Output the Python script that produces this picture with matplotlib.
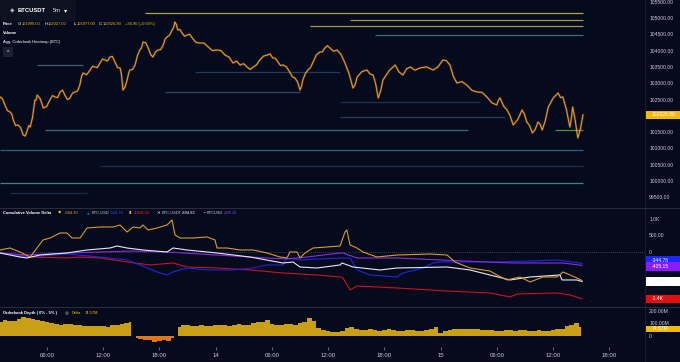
import numpy as np
import matplotlib
matplotlib.use('Agg')
import matplotlib.pyplot as plt
from matplotlib.patches import Rectangle
from matplotlib.lines import Line2D
import matplotlib.transforms as mtransforms

# ---- data (hours since 13th 00:00) ----
price_t = [1.0, 1.5, 2.05, 2.4, 2.9, 3.45, 3.9, 4.2, 4.7, 4.95,
           5.6, 6.3, 6.85, 7.4, 7.9, 8.45, 9.0, 9.5, 9.85, 10.6,
           11.1, 11.65, 12.2, 12.7, 13.25, 13.8, 14.1, 14.55, 14.85, 15.4,
           15.9, 16.25, 16.8, 17.3, 17.85, 18.4, 18.8, 19.35, 19.65, 19.95,
           20.4, 20.95, 21.5, 22.3, 23.2, 24.1, 25.0, 25.85, 26.6, 27.35,
           28.0, 28.7, 29.5, 30.1, 30.65, 31.2, 31.9, 32.45, 33.0, 33.3,
           33.85, 34.4, 35.1, 35.65, 36.2, 36.95, 37.8, 38.65, 39.1, 40.15,
           40.8, 41.35, 41.85, 43.15, 44.0, 44.75, 45.8, 47.2, 48.25, 49.0,
           49.75, 50.8, 51.9, 52.95, 54.0, 54.35, 55.1, 55.75, 56.7, 57.2,
           57.8, 58.4, 58.85, 59.5, 60.55, 61.05, 61.8, 62.1, 62.65, 63.2]
price_v = [102577, 102332, 102117, 101872, 101718, 101412, 101565, 101657, 102485, 102638,
           102240, 102485, 102577, 102730, 102638, 102546, 102730, 102945, 103313, 103405,
           103497, 103620, 103712, 103804, 103651, 103467, 102792, 103098, 103405, 103559,
           104019, 104264, 104080, 103804, 104019, 104172, 104417, 104632, 104877, 104632,
           104540, 104479, 104387, 104233, 104111, 104019, 103865, 103620, 103559, 103497,
           103497, 103712, 103865, 103773, 103651, 103559, 103344, 103160, 102792, 103098,
           103405, 103651, 103957, 104080, 104080, 104019, 103620, 102853, 103190, 103405,
           103252, 102546, 103098, 103559, 103252, 103497, 103467, 103405, 103712, 103559,
           103006, 102945, 102730, 102577, 102332, 102546, 102178, 101718, 102178, 101810,
           101473, 101810, 101565, 102270, 102700, 102577, 101657, 102270, 101320, 102026.9]
# in-between readings (one between each pair above)
price_mid_v = [102520, 102160, 102060, 101700, 101640, 101380, 101700, 101950, 102480, 102520,
               102280, 102620, 102560, 102790, 102500, 102700, 102760, 103200, 103260, 103520,
               103480, 103740, 103680, 103820, 103480, 103250, 102880, 103300, 103420, 103850,
               104080, 104240, 103880, 103960, 104030, 104350, 104470, 104700, 104800, 104650,
               104440, 104500, 104250, 104230, 104000, 104000, 103800, 103680, 103600, 103420,
               103560, 103830, 103900, 103760, 103540, 103500, 103200, 103050, 102900, 103300,
               103480, 103870, 103960, 104150, 103980, 103880, 103300, 102950, 103360, 103280,
               102980, 102760, 103380, 103340, 103440, 103400, 103500, 103500, 103690, 103200,
               103050, 102780, 102720, 102400, 102480, 102300, 102000, 101880, 102050, 101700,
               101580, 101740, 101850, 102550, 102560, 102200, 101900, 101850, 101600]

# orderbook heatmap levels
heat_price = [105150, 104940, 104755, 104480, 103560, 103345, 102730, 102425,
              101965, 101565, 101565, 100950, 100460, 99940, 99635]
heat_t0 = [16.5, 38.3, 34.1, 41.0, 4.9, 21.8, 18.6, 37.3, 37.3, 5.8, 60.2, 1.0, 11.6, 1.0, 2.0]
heat_t1 = [63.2, 63.2, 63.2, 63.2, 9.8, 37.3, 33.0, 52.2, 54.9, 50.9, 63.2, 63.2, 63.2, 63.2, 10.3]
heat_col = ['#b4a640', '#a09a42', '#a09a42', '#3d6e76', '#4a5a6e', '#28385a', '#34466a', '#212e4e',
            '#2a3a60', '#3a6a78', '#4f8f3c', '#3a5a7c', '#222f4a', '#4a7c82', '#1f2d48']

# cumulative volume delta
cvd_or_t = [0.98, 2.05, 3.1, 4.2, 4.93, 5.57, 6.32, 7.39, 8.13, 8.67, 9.52, 10.27, 11.65, 13.04,
            13.79, 14.54, 15.18, 15.92, 16.24, 16.78, 17.74, 18.8, 19.34, 19.66, 20.2, 21.58,
            23.08, 23.93, 24.14, 25.21, 26.6, 27.98, 29.48, 30.87, 31.61, 31.93, 32.68, 33.0,
            33.53, 34.39, 35.88, 37.27, 37.8, 38.0, 38.34, 39.08, 39.72, 41.22, 43.35, 46.87,
            48.69, 49.54, 51.14, 53.27, 54.02, 55.09, 56.48, 57.55, 58.93, 60.43, 61.07, 61.82,
            62.56, 63.1]
cvd_or_v = [61, 121, 0, -152, 121, 364, 424, 576, 576, 424, 424, 727, 758, 758,
            818, 606, 758, 727, 818, 667, 727, 818, 970, 515, 424, 424,
            455, 364, 121, 121, 61, 61, -30, -152, -182, 0, 0, -182,
            -30, 121, 152, 182, 606, 667, 212, 121, 0, -152, -91, -61,
            -91, -303, -485, -576, -697, -848, -758, -909, -758, -758, -606, -697,
            -788, -864.30]
cvd_bl_t = [0.98, 3.86, 8.13, 11.65, 14.54, 15.92, 17.74, 18.8, 19.45, 20.94, 23.08, 25.85,
            27.98, 29.48, 31.18, 31.61, 33.0, 37.27, 38.34, 39.08, 40.47, 43.35, 43.99, 46.13,
            47.19, 47.94, 49.75, 54.02, 57.55, 60.43, 63.1]
cvd_bl_v = [-30, -152, -61, -152, -242, -394, -606, -697, -606, -485, -545, -545,
            -485, -394, -394, -182, -242, -182, -182, -545, -697, -758, -636, -485,
            -333, -303, -303, -303, -273, -242, -344.76]
cvd_rd_t = [0.98, 4.5, 8.13, 9.52, 11.65, 14.54, 16.99, 19.45, 20.94, 24.14, 27.66, 31.18,
            34.81, 37.27, 37.59, 38.34, 39.08, 43.35, 48.69, 53.27, 55.41, 56.16, 60.43,
            61.82, 63.1]
cvd_rd_v = [-30, -152, -182, -152, -182, -303, -394, -333, -455, -485, -545, -636,
            -697, -758, -788, -1151, -1030, -1091, -1182, -1242, -1364, -1273, -1242,
            -1303, -1420.39]
cvd_wh_t = [0.98, 3.1, 3.86, 5.25, 8.13, 10.27, 12.72, 13.47, 14.54, 16.24, 18.8, 19.45,
            20.94, 24.14, 27.66, 31.18, 32.25, 33.0, 34.81, 37.27, 37.48, 38.66, 41.54,
            43.35, 48.69, 51.14, 53.27, 55.41, 57.55, 60.75, 60.96, 62.56, 63.1]
cvd_wh_v = [-30, -152, -182, -91, -30, 61, 121, 182, 121, 61, 0, 121,
            61, -30, -152, -333, -303, -455, -485, -394, -333, -455, -545,
            -485, -455, -545, -697, -848, -758, -697, -848, -848, -894.82]
cvd_pu_t = [0.98, 3.86, 8.13, 11.65, 15.18, 18.8, 22.3, 25.85, 29.48, 31.61, 33.74, 37.27,
            37.59, 39.08, 43.35, 50.4, 55.73, 61.07, 63.1]
cvd_pu_v = [-30, -91, -30, 0, 30, 0, -61, -121, -182, -212, -152, -30,
            -30, -182, -182, -273, -333, -333, -405.15]

# orderbook depth delta (millions), every half hour from 01:00
depth_t = np.arange(1.0, 63.01, 0.5)
depth_v = [110, 125, 118, 122, 138, 150, 140, 132, 125, 118,
           108, 102, 98, 92, 93, 96, 85, 88, 82, 78,
           80, 84, 78, 76, 87, 92, 98, 105, 110, -10,
           -20, -25, -30, -42, -32, -28, -38, -12, 75, 92,
           85, 78, 82, 88, 82, 80, 86, 92, 86, 84,
           88, 95, 90, 88, 100, 108, 115, 128, 95, 92,
           90, 98, 95, 88, 100, 108, 140, 120, 65, 50,
           42, 38, 35, 45, 62, 72, 55, 50, 52, 56,
           50, 46, 50, 54, 48, 44, 45, 50, 48, 44,
           46, 50, 55, 70, 30, 42, 52, 60, 58, 54,
           55, 60, 55, 52, 50, 48, 45, 42, 50, 52,
           45, 48, 50, 44, 45, 50, 45, 46, 50, 55,
           60, 80, 88, 100, 74.57]

time_ticks = [6, 12, 18, 24, 30, 36, 42, 48, 54, 60, 66]
time_labels = ['06:00', '12:00', '18:00', '14', '06:00', '12:00', '18:00', '15',
               '06:00', '12:00', '18:00']

# ---- figure ----
W, H = 680, 362
BG = '#050b1d'
TXT = '#c8ccd6'
plt.rcParams['font.family'] = ['Liberation Sans', 'DejaVu Sans']

fig = plt.figure(figsize=(6.8, 3.62), dpi=100, facecolor=BG)


def box(y0, y1):
    return [0, 1 - y1 / H, 645 / W, (y1 - y0) / H]


ax_p = fig.add_axes(box(0, 207))
ax_c = fig.add_axes(box(208, 307))
ax_d = fig.add_axes(box(307, 347))

for ax in (ax_p, ax_c, ax_d):
    ax.set_facecolor(BG)
    ax.set_xlim(0.98, 69.82)
    for s in ax.spines.values():
        s.set_visible(False)
    ax.yaxis.tick_right()
    ax.tick_params(axis='y', length=0, pad=3, labelsize=3.6, labelcolor=TXT)
    ax.tick_params(axis='x', bottom=False, labelbottom=False)

# price pane
ax_p.set_ylim(99203, 105552)
for p, t0, t1, c in zip(heat_price, heat_t0, heat_t1, heat_col):
    ax_p.hlines(p, t0, t1, color=c, lw=0.9)

pt_arr = np.array(price_t)
full_t = np.empty(2 * len(price_t) - 1)
full_v = np.empty_like(full_t)
full_t[0::2] = pt_arr
full_t[1::2] = (pt_arr[:-1] + pt_arr[1:]) / 2
full_v[0::2] = price_v
full_v[1::2] = price_mid_v
ax_p.plot(full_t, full_v, color='#ffb347', lw=1.6, alpha=0.22)
ax_p.plot(full_t, full_v, color='#f29a1c', lw=0.75)
pt = np.arange(99500, 105501, 500)
ax_p.set_yticks(pt)
ax_p.set_yticklabels(['' if v == 102000 else f'{v:.2f}' for v in pt])

# cvd pane
ax_c.set_ylim(-1667, 1333)
ax_c.axhline(0, color='#6a7080', lw=0.5, ls=(0, (1, 2)))
ax_c.plot(cvd_rd_t, cvd_rd_v, color='#d0101c', lw=0.8)
ax_c.plot(cvd_bl_t, cvd_bl_v, color='#1a28e0', lw=0.8)
ax_c.plot(cvd_pu_t, cvd_pu_v, color='#8a2be2', lw=0.8)
ax_c.plot(cvd_wh_t, cvd_wh_v, color='#e8e8f0', lw=0.8)
ax_c.plot(cvd_or_t, cvd_or_v, color='#d99a2b', lw=0.8)
ax_c.set_yticks([1000, 500, 0])
ax_c.set_yticklabels(['1.0K', '500.00', '0'])

# depth pane
ax_d.set_ylim(-81, 227)
dv = np.array(depth_v)
ax_d.fill_between(depth_t, 0, dv, where=dv >= 0, step='mid', color='#c9a015', lw=0)
ax_d.fill_between(depth_t, 0, dv, where=dv < 0, step='mid', color='#e0771a', lw=0)
ax_d.set_yticks([200, 100, 0])
ax_d.set_yticklabels(['200.00M', '100.00M', '0'])
ax_d.set_xticks(time_ticks)
ax_d.set_xticklabels(time_labels)
ax_d.tick_params(axis='x', bottom=True, labelbottom=True, length=2, width=0.5,
                 color='#8890a0', labelsize=4.3, labelcolor=TXT, pad=2.5)


def tag(ax, val, fc, txt, tc='white', shift=0, hgt=8.4):
    trans = mtransforms.blended_transform_factory(ax.transAxes, ax.transData)
    y0, y1 = ax.get_ylim()
    hpx = ax.get_position().height * H
    dpp = (y1 - y0) / hpx
    yc = val + shift * dpp
    ax.add_patch(Rectangle((1.002, yc - hgt / 2 * dpp), 34 / 645, hgt * dpp, transform=trans,
                           fc=fc, ec='none', clip_on=False, zorder=5))
    ax.text(1.01, yc, txt, transform=trans, color=tc, fontsize=3.6, va='center',
            ha='left', clip_on=False, zorder=6)


tag(ax_p, price_v[-1], '#f0b90b', '102026.90')
tag(ax_c, cvd_bl_v[-1], '#1a28ff', '-344.76', shift=3)
tag(ax_c, cvd_pu_v[-1], '#8a1aff', '-405.15', shift=-1)
tag(ax_c, cvd_wh_v[-1], '#ffffff', '-894.82', tc='#f4f4f4')
tag(ax_c, cvd_rd_v[-1], '#e01010', '-1.4K')
tag(ax_d, depth_v[-1], '#f0b90b', '74.57M', shift=-2.2, hgt=6.5)

# separators
fig.add_artist(Line2D([645 / W] * 2, [0, 1], transform=fig.transFigure, color='#1c2233', lw=0.6))
for yy in (207.5, 307):
    fig.add_artist(Line2D([0, 1], [1 - yy / H] * 2, transform=fig.transFigure,
                          color='#262c3c', lw=0.8))


def T(x, y, s, color='white', size=2.9, weight='normal', ha='left'):
    fig.text(x / W, 1 - y / H, s, color=color, fontsize=size, weight=weight, ha=ha, va='center')


# header box
fig.patches.append(Rectangle((0, 1 - 21 / H), 76 / W, 21 / H, transform=fig.transFigure,
                             fc='#0d1221', ec='none'))
T(12, 11, '◈', '#e0e0e0', 4.2, ha='center')
T(18, 11, 'BTCUSDT', 'white', 4.2, 'bold')
T(53, 11, '5m', '#e0e0e0', 4.2)
T(66, 11, '▾', 'white', 4.5, ha='center')

YEL = '#f0b90b'
T(3, 24, 'Price', 'white', 2.9, 'bold')
T(18, 24, 'O:', 'white')
T(22, 24, '101990.00', YEL)
T(45, 24, 'H:', 'white')
T(48, 24, '102027.00', YEL)
T(74, 24, 'L:', 'white')
T(77, 24, '101977.00', YEL)
T(99, 24, 'C:', 'white')
T(103, 24, '102026.90', YEL)
T(125, 24, '+36.90 (+0.03%)', YEL)
T(3, 33, 'Volume', 'white', 2.9, 'bold')
T(3, 42, 'Agg. Orderbook Heatmap (BTC)', 'white')
fig.patches.append(Rectangle((3 / W, 1 - 57 / H), 10 / W, 10 / H, transform=fig.transFigure,
                             fc='#1a2030', ec='none'))
T(8, 53, '^', 'white', 3.5, ha='center')

# cvd legend
T(3, 213, 'Cumulative Volume Delta', 'white', 2.9, 'bold')
T(60, 213, '◆', YEL, 3.2, ha='center')
T(65, 213, '-864.30', '#e8a030')
T(88, 213, '●', '#2a5cff', 3.2, ha='center')
T(92, 213, 'BTC-USD', TXT)
T(110, 213, '-344.76', '#3a44ff')
T(130, 213, '▮', '#f0b020', 3.2, ha='center')
T(134, 213, '-1420.39', '#ff2a2a')
T(158, 213, '✕', 'white', 3.2, ha='center')
T(162, 213, 'BTC-USDT', TXT)
T(182, 213, '-894.82', 'white')
T(204, 213, '▪', '#b0b4c0', 3.2, ha='center')
T(207, 213, 'BTCUSD', TXT)
T(224, 213, '-405.15', '#9a40ff')

# depth legend
T(3, 313, 'Orderbook Depth ( 0% - 5% )', 'white', 2.9, 'bold')
T(67, 313, '◎', '#c0c4cc', 3.2, ha='center')
T(72, 313, 'Delta', YEL)
T(85, 313, '74.57M', YEL)

fig.savefig('out.png', dpi=100, facecolor=BG)
